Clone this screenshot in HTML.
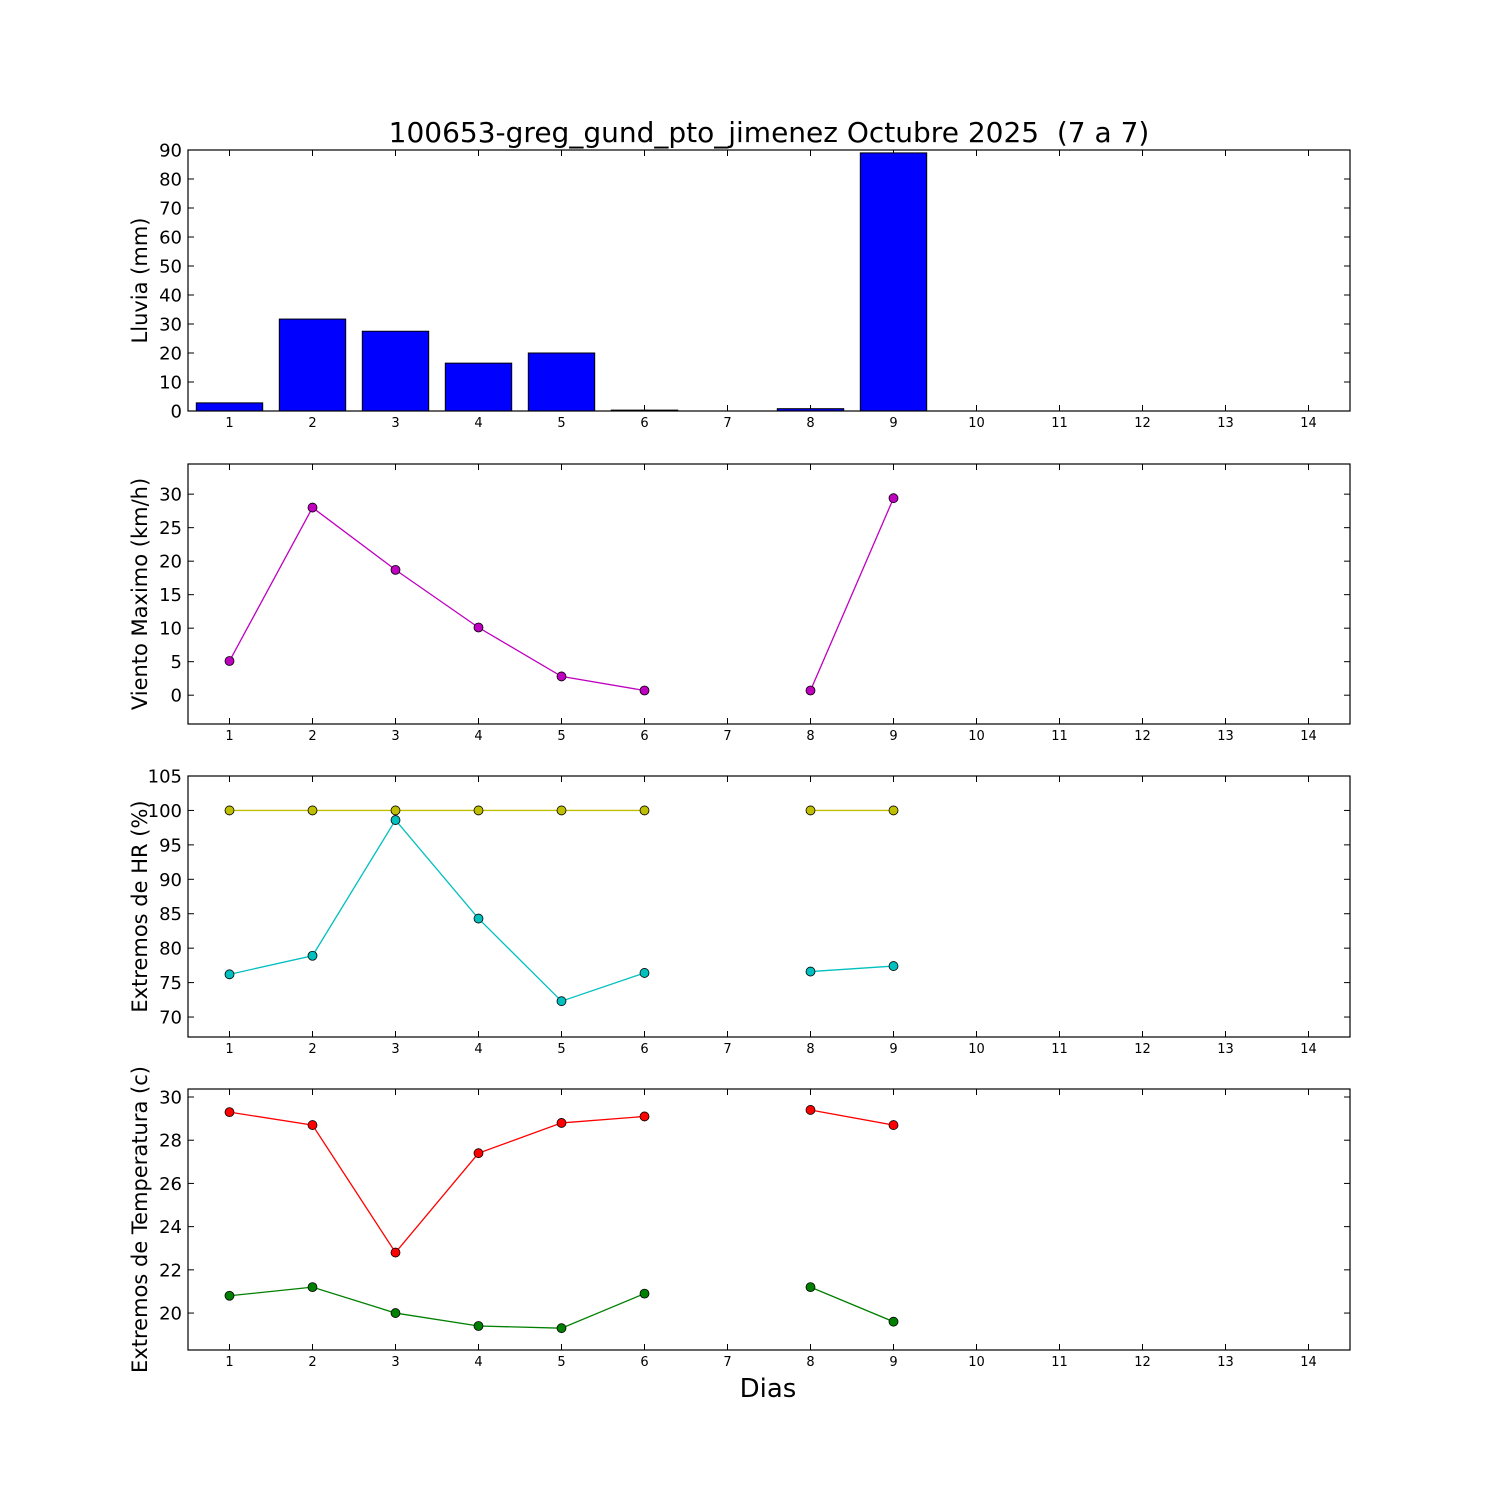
<!DOCTYPE html>
<html><head><meta charset="utf-8"><style>body{margin:0;background:#fff}svg{display:block}text{font-family:"DejaVu Sans","Liberation Sans",sans-serif}</style></head>
<body>
<svg id="chart" width="1500" height="1500" viewBox="0 0 1500 1500" xmlns="http://www.w3.org/2000/svg">
<rect width="1500" height="1500" fill="#fff"/>
<text x="769" y="142" font-size="28" text-anchor="middle">100653-greg_gund_pto_jimenez Octubre 2025 &#160;(7 a 7)</text>
<text x="768" y="1397" font-size="26" text-anchor="middle">Dias</text>
</svg>
<script>
const days=[1,2,3,4,5,6,7,8,9,10,11,12,13,14];
const rain=[2.8,31.7,27.5,16.5,20,0.3,0,0.8,89];
const wind=[5.1,28,18.7,10.1,2.8,0.7,null,0.7,29.4];
const hrMax=[100,100,100,100,100,100,null,100,100];
const hrMin=[76.2,78.9,98.6,84.3,72.3,76.4,null,76.6,77.4];
const tMax=[29.3,28.7,22.8,27.4,28.8,29.1,null,29.4,28.7];
const tMin=[20.8,21.2,20.0,19.4,19.3,20.9,null,21.2,19.6];
const rainTicks=[0,10,20,30,40,50,60,70,80,90];
const windTicks=[0,5,10,15,20,25,30];
const hrTicks=[70,75,80,85,90,95,100,105];
const tTicks=[20,22,24,26,28,30];

const svg=document.getElementById('chart');
const NS='http://www.w3.org/2000/svg';
function mk(tag,attrs,parent){const e=document.createElementNS(NS,tag);for(const k in attrs)e.setAttribute(k,attrs[k]);(parent||svg).appendChild(e);return e;}
const L=188,R=1350;
const xs=d=>L+(d-0.5)*(R-L)/14;

function panel(name,top,bot,ymin,ymax,ticks,label){
  const g=mk('g',{});
  
  
  const ys=v=>bot-(v-ymin)/(ymax-ymin)*(bot-top);
  ticks.forEach(t=>{
    const y=ys(t);
    mk('line',{x1:L,x2:L+6,y1:y,y2:y,stroke:'#000'},g);
    mk('line',{x1:R,x2:R-6,y1:y,y2:y,stroke:'#000'},g);
    const tx=mk('text',{x:L-6,y:y+6.5,'font-size':18,'text-anchor':'end'},g);
    tx.textContent=t;
    
    
  });
  days.forEach(d=>{
    const x=xs(d);
    mk('line',{x1:x,x2:x,y1:bot,y2:bot-6,stroke:'#000'},g);
    mk('line',{x1:x,x2:x,y1:top,y2:top+6,stroke:'#000'},g);
    const tx=mk('text',{x:x,y:bot+16,'font-size':13,'text-anchor':'middle'},g);
    tx.textContent=d;
    
    
  });
  const lab=mk('text',{x:0,y:0,'font-size':21,'text-anchor':'middle',transform:`translate(147,${(top+bot)/2}) rotate(-90)`},g);
  lab.textContent=label;
  
  
  return {g,ys,frame:()=>{const f=mk('rect',{x:L,y:top,width:R-L,height:bot-top,fill:'none',stroke:'#000','stroke-width':1.2},g);}};
}
function series(p,vals,color,name){
  let seg=[];
  const segs=[];
  vals.forEach((v,i)=>{if(v===null){if(seg.length)segs.push(seg);seg=[];}else seg.push([xs(days[i]),p.ys(v)]);});
  if(seg.length)segs.push(seg);
  segs.forEach(s=>{
    const pl=mk('polyline',{points:s.map(q=>q.join(',')).join(' '),fill:'none',stroke:color,'stroke-width':1.3},p.g);
    
    
  });
  vals.forEach((v,i)=>{if(v===null)return;
    const c=mk('circle',{cx:xs(days[i]),cy:p.ys(v),r:4.5,fill:color,stroke:'#000','stroke-width':0.8},p.g);
    
    
  });
}
const p1=panel('rain',150,411,0,90,rainTicks,'Lluvia (mm)');
rain.forEach((v,i)=>{
  const x=xs(days[i])-0.4*(R-L)/14, w=0.8*(R-L)/14;
  const b=mk('rect',{x:x,y:p1.ys(v),width:w,height:p1.ys(0)-p1.ys(v),fill:'#0000ff',stroke:'#000','stroke-width':1},p1.g);
  
  
});
p1.frame();
const p2=panel('wind',464,724,-4.3,34.5,windTicks,'Viento Maximo (km/h)');
series(p2,wind,'#bf00bf','wind');p2.frame();
const p3=panel('humidity',776,1037,67.1,105,hrTicks,'Extremos de HR (%)');
series(p3,hrMax,'#bfbf00','hr-max');series(p3,hrMin,'#00bfbf','hr-min');p3.frame();
const p4=panel('temperature',1089,1350,18.29,30.37,tTicks,'Extremos de Temperatura (c)');
series(p4,tMax,'#ff0000','temp-max');series(p4,tMin,'#008000','temp-min');p4.frame();
</script>
</body></html>
